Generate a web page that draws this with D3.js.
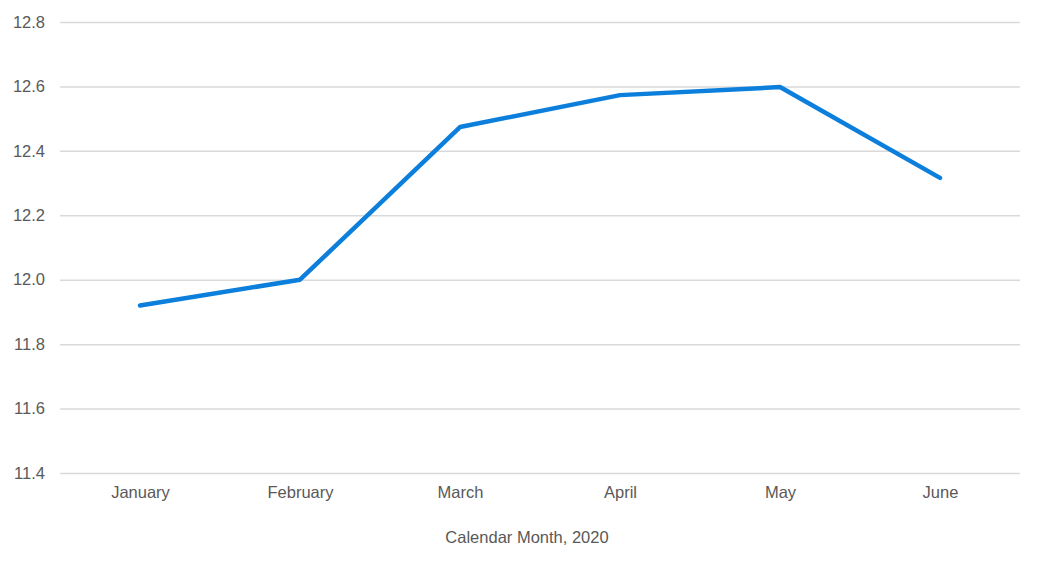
<!DOCTYPE html>
<html><head><meta charset="utf-8">
<script src="https://cdn.jsdelivr.net/npm/d3@7"></script>
<style>body{margin:0;background:#fff}svg{display:block}</style>
</head><body><svg id="c" width="1043" height="562"></svg>
<script>
const months = ["January","February","March","April","May","June"];
const values = [11.92, 12.0, 12.474, 12.573, 12.598, 12.316];
const yTicks = [11.4, 11.6, 11.8, 12.0, 12.2, 12.4, 12.6, 12.8];
const xTitle = "Calendar Month, 2020";

(function(){
const svg = d3.select("#c");
const mL = 60, mR = 1020, mT = 22, mB = 473;
const x = d3.scalePoint().domain(months).range([mL, mR]).padding(0.5);
const y = d3.scaleLinear().domain([11.4, 12.8]).range([mB, mT]);
const font = "'Liberation Sans', Arial, sans-serif";
const fs = "16.5px";

const yAxis = svg.append("g").attr("transform", `translate(${mL},0)`)
  .call(d3.axisLeft(y).tickValues(yTicks).tickFormat(d3.format(".1f")).tickSize(-(mR-mL)).tickPadding(15));
yAxis.select(".domain").remove();
yAxis.selectAll(".tick line").attr("stroke", "#d9d9d9").attr("stroke-width", 1.5);
yAxis.selectAll(".tick text").attr("fill", "#595959").style("font-family", font).style("font-size", fs);

const xAxis = svg.append("g").attr("transform", `translate(0,${mB})`)
  .call(d3.axisBottom(x).tickSize(0).tickPadding(13));
xAxis.select(".domain").remove();
xAxis.selectAll(".tick text").attr("fill", "#595959").style("font-family", font).style("font-size", fs);

svg.append("text").attr("x", 527).attr("y", 543).attr("text-anchor", "middle")
  .attr("fill", "#595959").style("font-family", font).style("font-size", fs).text(xTitle);

svg.append("path").datum(values)
  .attr("fill", "none").attr("stroke", "#0b7fdb").attr("stroke-width", 4.5)
  .attr("stroke-linejoin", "round").attr("stroke-linecap", "round")
  .attr("d", d3.line().x((d,i) => x(months[i])).y(d => y(d)));
})();
</script></body></html>
